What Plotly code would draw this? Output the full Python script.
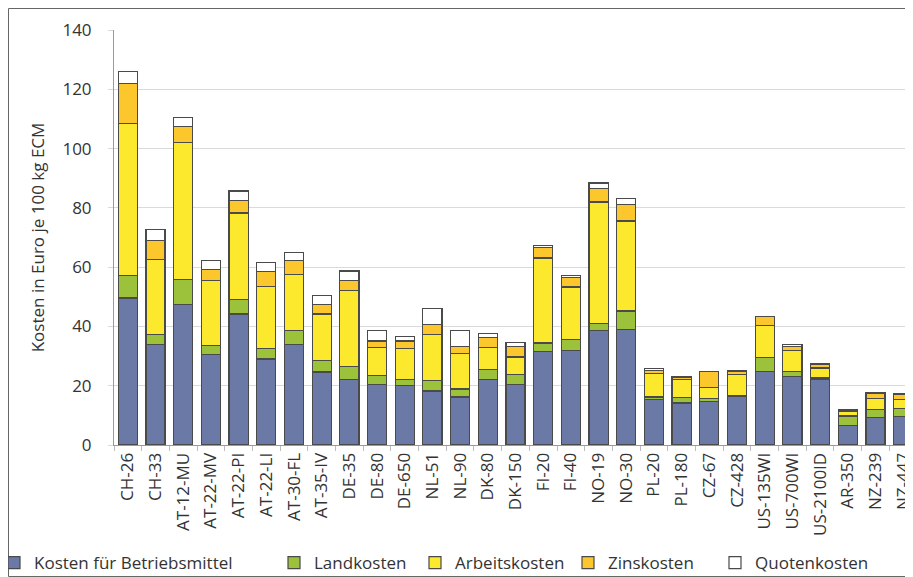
import plotly.graph_objects as go

# Betriebe / Standorte
betriebe = ["CH-26", "CH-33", "AT-12-MU", "AT-22-MV", "AT-22-PI", "AT-22-LI", "AT-30-FL",
            "AT-35-IV", "DE-35", "DE-80", "DE-650", "NL-51", "NL-90", "DK-80", "DK-150",
            "FI-20", "FI-40", "NO-19", "NO-30", "PL-20", "PL-180", "CZ-67", "CZ-428",
            "US-135WI", "US-700WI", "US-2100ID", "AR-350", "NZ-239", "NZ-447"]

# Kostenblöcke (Euro je 100 kg ECM), von unten nach oben gestapelt
betriebsmittel = [49.6, 34.0, 47.5, 30.6, 44.2, 29.0, 34.0, 24.6, 22.1, 20.4, 20.1, 18.2, 16.2,
                  22.1, 20.4, 31.6, 31.8, 38.5, 39.1, 15.3, 14.2, 14.8, 16.3, 24.7, 23.0, 22.1,
                  6.7, 9.2, 9.5]
landkosten = [7.5, 3.2, 8.3, 3.0, 5.0, 3.5, 4.5, 3.9, 4.3, 3.1, 2.0, 3.6, 2.7,
              3.4, 3.4, 2.8, 3.8, 2.5, 6.1, 0.9, 1.8, 1.0, 0.3, 4.9, 1.7, 0.5,
              3.1, 2.8, 2.7]
arbeitskosten = [51.4, 25.4, 46.2, 21.8, 29.1, 21.0, 19.0, 15.7, 25.8, 9.5, 10.5, 15.5, 11.9,
                 7.5, 5.9, 28.7, 17.7, 41.0, 30.4, 8.0, 6.1, 3.5, 7.1, 10.6, 7.3, 3.4,
                 1.6, 3.6, 3.2]
zinskosten = [13.4, 6.4, 5.4, 3.8, 4.2, 4.9, 4.8, 3.3, 3.3, 2.1, 2.5, 3.4, 2.5,
              3.4, 3.6, 3.5, 3.3, 4.5, 5.5, 0.9, 0.6, 5.5, 1.2, 3.2, 1.3, 1.1,
              0.4, 1.8, 1.6]
quotenkosten = [4.0, 3.7, 3.0, 3.1, 3.2, 3.1, 2.7, 2.9, 3.2, 3.6, 1.4, 5.3, 5.2,
                1.1, 1.4, 0.8, 0.5, 1.9, 2.0, 0.7, 0.5, 0.0, 0.3, 0.0, 0.6, 0.5,
                0.0, 0.3, 0.3]

serien = [
    ("Kosten für Betriebsmittel", betriebsmittel, "#6b79a6"),
    ("Landkosten", landkosten, "#9cc13b"),
    ("Arbeitskosten", arbeitskosten, "#fce82c"),
    ("Zinskosten", zinskosten, "#fcc72c"),
    ("Quotenkosten", quotenkosten, "#ffffff"),
]

FONT = "Open Sans"
L, R, T, B = 106, 4, 22, 140
PW, PH = 913 - L - R, 577 - T - B

# linke Kante jeder Legenden-Einheit (px im Figure-Koordinatensystem)
legend_px = [-14, 266, 407, 560, 707]

fig = go.Figure()
layout_legends = {}
for i, (name, werte, farbe) in enumerate(serien):
    key = "legend" if i == 0 else f"legend{i + 1}"
    fig.add_trace(go.Bar(
        x=betriebe, y=werte, name=name, legend=key,
        marker=dict(color=farbe, line=dict(color="#4a4a4a", width=1.2)),
    ))
    layout_legends[key] = dict(
        x=(legend_px[i] - L) / PW, xanchor="left",
        y=-(555 - (T + PH)) / PH, yanchor="middle",
        orientation="h", font=dict(size=17, color="#333333"),
        bgcolor="rgba(0,0,0,0)",
    )

fig.update_layout(
    barmode="stack",
    bargap=0.31,
    width=913, height=577,
    margin=dict(l=L, r=R, t=T, b=B, autoexpand=False),
    paper_bgcolor="white", plot_bgcolor="white",
    font=dict(family=FONT, size=16, color="#333333"),
    showlegend=True,
    xaxis=dict(tickangle=-90, showline=True, linecolor="#9a9a9a", linewidth=1,
               ticks="outside", tickson="boundaries", ticklen=5, tickcolor="#bdbdbd",
               tickfont=dict(size=17), automargin=False),
    yaxis=dict(range=[0, 140], dtick=20, showgrid=True, gridcolor="#dadada", gridwidth=1,
               showline=True, linecolor="#9a9a9a", linewidth=1,
               ticks="outside", ticklen=5, tickcolor="#dadada",
               ticklabelstandoff=13, tickfont=dict(size=17), automargin=False,
               title=dict(text="Kosten in Euro je 100 kg ECM", font=dict(size=17), standoff=13)),
    shapes=[dict(type="rect", xref="paper", yref="paper",
                 x0=-(L - 0.5) / PW, x1=(PW + R + 10) / PW,
                 y0=-(568.5 - (T + PH)) / PH, y1=(PH + T - 0.5) / PH,
                 line=dict(color="#666666", width=1))],
    **layout_legends,
)

fig.write_html("out.html")
